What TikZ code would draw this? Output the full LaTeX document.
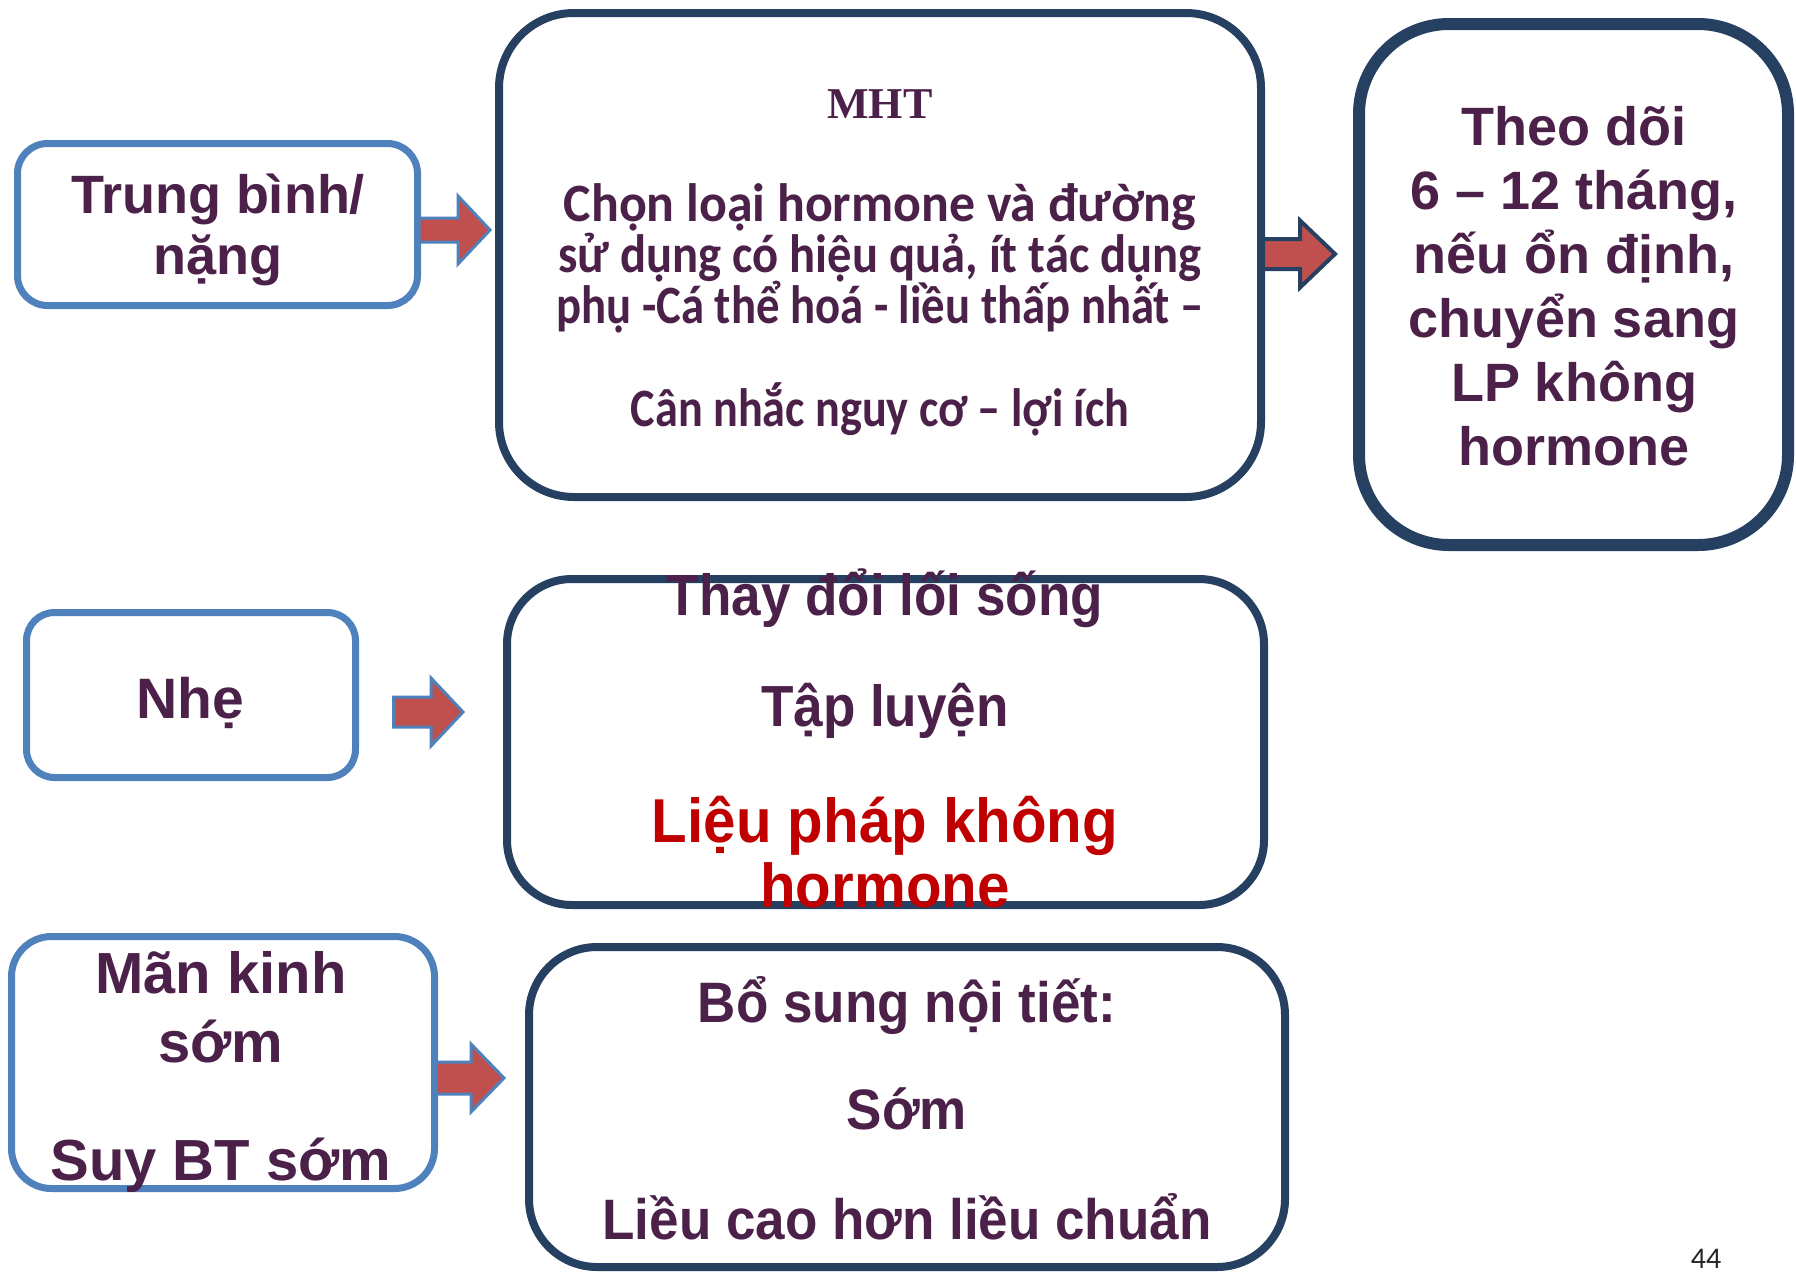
\documentclass[tikz,border=0pt]{standalone}
\usepackage{graphicx}
\usepackage{fontspec}
\setmainfont{Liberation Sans}
\newfontfamily\calfont{Carlito}
\newfontfamily\timesfont{Liberation Serif}
\newfontfamily\narrowA{Liberation Sans}[FakeStretch=0.915]
\newfontfamily\narrowC{Liberation Sans}[FakeStretch=0.93]
\newfontfamily\narrowB{Liberation Sans}[FakeStretch=0.94]
\newfontfamily\numfont{Carlito}
\definecolor{txtcol}{HTML}{4B2149}
\definecolor{redtxt}{HTML}{C00000}
\definecolor{lblue}{HTML}{4F81BD}
\definecolor{dblue}{HTML}{254061}
\definecolor{arrfill}{HTML}{C0504D}
\newcommand\fsz[1]{\fontsize{#1}{#1}\selectfont}
\newcommand\blkarrow[7][]{%
  \draw[#1] (#2,#5-#6) -- (#3,#5-#6) -- (#3,#5-#7) -- (#4,#5) -- (#3,#5+#7) -- (#3,#5+#6) -- (#2,#5+#6) -- cycle;}
\tikzset{
  lbox/.style={draw=lblue, line width=7pt, fill=white, inner sep=0pt, outer sep=0pt},
  dbox/.style={draw=dblue, line width=8pt, fill=white, inner sep=0pt, outer sep=0pt},
  txt/.style={anchor=base, inner sep=0pt, outer sep=0pt, text=txtcol},
  larrow/.style={fill=arrfill, draw=lblue, line width=3pt, line join=miter},
  darrow/.style={fill=arrfill, draw=dblue, line width=4pt, line join=miter}
}
\begin{document}
\begin{tikzpicture}[x=1pt,y=-1pt]
\useasboundingbox (0,0) rectangle (1796,1275);
\fill[white] (0,0) rectangle (1796,1275);

% boxes
\node[lbox, minimum width=400pt, minimum height=162pt, rounded corners=30pt] (sev) at (217.5,224.5) {};
\node[dbox, minimum width=762pt, minimum height=484pt, rounded corners=75pt] (mhtbox) at (880,255) {};
\node[dbox, line width=12pt, minimum width=429pt, minimum height=521pt, rounded corners=90pt] (follow) at (1573.5,284.5) {};
\node[lbox, minimum width=329pt, minimum height=165pt, rounded corners=28pt] (mild) at (191,695) {};
\node[dbox, minimum width=757pt, minimum height=326pt, rounded corners=65pt] (life) at (885.5,742) {};
\node[lbox, minimum width=423pt, minimum height=252pt, rounded corners=40pt] (early) at (223,1062.5) {};
\node[dbox, minimum width=756pt, minimum height=320pt, rounded corners=68pt] (horm) at (907,1107) {};

% arrows
\blkarrow[larrow]{419}{458}{490}{230}{12}{34}
\blkarrow[darrow]{1263}{1300}{1335}{254}{15}{33.5}
\blkarrow[larrow]{393.5}{431}{463}{712}{15}{34}
\blkarrow[larrow]{436}{471}{504}{1078}{16}{34}

% texts: box 1
\node[txt, font=\bfseries\fsz{54}] (sevA) at (218,213) {Trung bình/};
\node[txt, font=\bfseries\fsz{54}] (sevB) at (218,274) {nặng};

% MHT box
\node[txt, font=\timesfont\bfseries\fsz{44}] (mhtA) at (880,118) {MHT};
\node[txt, font=\calfont\bfseries\fsz{54}] (mhtB) at (880,221) {\scalebox{0.96}[1]{Chọn loại hormone và đường}};
\node[txt, font=\calfont\bfseries\fsz{54}] (mhtC) at (880,272) {\scalebox{0.90}[1]{sử dụng có hiệu quả, ít tác dụng}};
\node[txt, font=\calfont\bfseries\fsz{54}] (mhtD) at (880,323) {\scalebox{0.865}[1]{phụ -Cá thể hoá - liều thấp nhất –}};
\node[txt, font=\calfont\bfseries\fsz{54}] (mhtE) at (880,426) {\scalebox{0.855}[1]{Cân nhắc nguy cơ – lợi ích}};

% follow box
\node[txt, font=\bfseries\fsz{54}] (folA) at (1574,145.5) {Theo dõi};
\node[txt, font=\bfseries\fsz{54}] (folB) at (1574,209.5) {6 – 12 tháng,};
\node[txt, font=\bfseries\fsz{54}] (folC) at (1574,273.5) {nếu ổn định,};
\node[txt, font=\bfseries\fsz{54}] (folD) at (1574,337.5) {chuyển sang};
\node[txt, font=\bfseries\fsz{54}] (folE) at (1574,401.5) {LP không};
\node[txt, font=\bfseries\fsz{54}] (folF) at (1574,465.5) {hormone};

% mild
\node[txt, font=\bfseries\fsz{57}] (mildA) at (190,718) {Nhẹ};

% life box
\node[txt, font=\narrowA\bfseries\fsz{58}] (lifeA) at (885,615) {Thay đổi lối sống};
\node[txt, font=\narrowA\bfseries\fsz{58}] (lifeB) at (885,726) {Tập luyện};
\node[txt, text=redtxt, font=\narrowB\bfseries\fsz{62}] (lifeC) at (885,842) {Liệu pháp không};
\node[txt, text=redtxt, font=\narrowB\bfseries\fsz{62}] (lifeD) at (885,907) {hormone};

% early
\node[txt, font=\bfseries\fsz{58}] (earlyA) at (221,993) {Mãn kinh};
\node[txt, font=\bfseries\fsz{58}] (earlyB) at (221,1062) {sớm};
\node[txt, font=\bfseries\fsz{58}] (earlyC) at (221,1180) {Suy BT sớm};

% hormone box
\node[txt, font=\narrowC\bfseries\fsz{57}] (hormA) at (907,1022) {Bổ sung nội tiết:};
\node[txt, font=\narrowC\bfseries\fsz{57}] (hormB) at (907,1129) {Sớm};
\node[txt, font=\narrowC\bfseries\fsz{57}] (hormC) at (907,1239) {Liều cao hơn liều chuẩn};

% page number
\node[anchor=base, inner sep=0pt, text=black!85, font=\numfont\fsz{30}] (pnum) at (1706,1268) {44};
\end{tikzpicture}
\end{document}
